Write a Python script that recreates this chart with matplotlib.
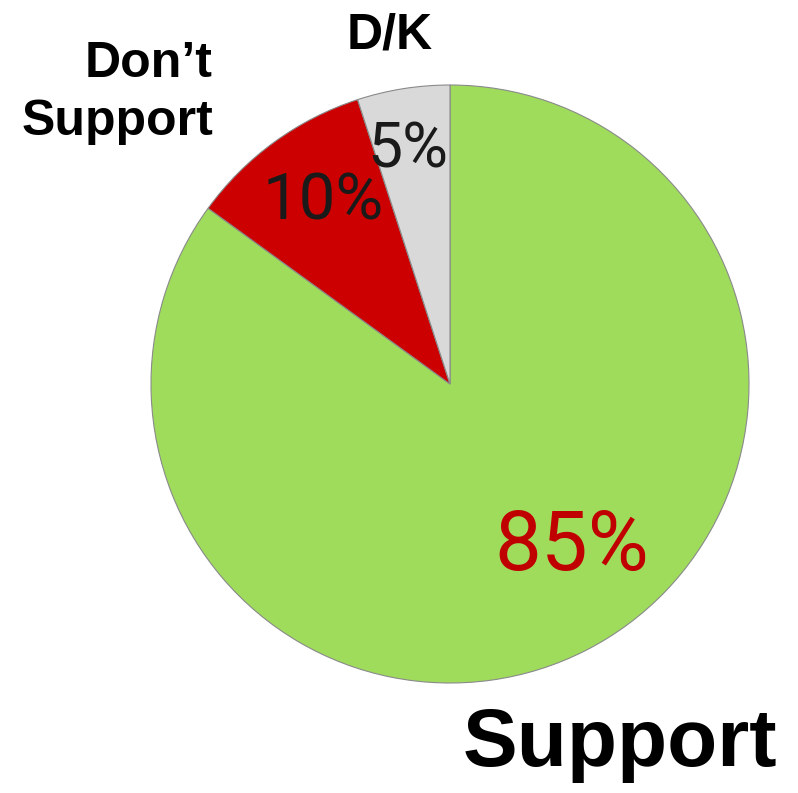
import matplotlib
matplotlib.use("Agg")
import matplotlib.pyplot as plt

labels = ["Support", "Don\u2019t\nSupport", "D/K"]
shares = [85, 10, 5]
colors = ["#9fdc5c", "#cc0000", "#d9d9d9"]
pct_colors = ["#c00000", "#1a1a1a", "#1a1a1a"]

W, H = 798, 793
fig = plt.figure(figsize=(W / 100, H / 100), dpi=100)
ax = fig.add_axes([0, 0, 1, 1])

cx, cy, r = 450, 384, 299

# y axis is flipped below, so -90 is the top and counterclock looks clockwise
wedges, _ = ax.pie(shares, colors=colors, startangle=-90, counterclock=True,
                   center=(cx, cy), radius=r, frame=True,
                   wedgeprops=dict(edgecolor="#8a8a8a", linewidth=0.8))
ax.set_xlim(0, W)
ax.set_ylim(H, 0)
ax.set_aspect("equal")
ax.axis("off")

narrow = ["Roboto", "DejaVu Sans"]
bold = ["Liberation Sans", "DejaVu Sans"]

# percentage labels
ax.text(572, 547, f"{shares[0]}%", fontsize=60, color=pct_colors[0],
        family=narrow, ha="center", va="center")
ax.text(323, 202, f"{shares[1]}%", fontsize=47, color=pct_colors[1],
        family=narrow, ha="center", va="center")
ax.text(408, 150, f"{shares[2]}%", fontsize=45, color=pct_colors[2],
        family=narrow, ha="center", va="center")

# category labels
ax.text(620, 766, labels[0], fontsize=59, fontweight="bold", family=bold,
        ha="center", va="baseline")
ax.text(213, 135, labels[1], fontsize=36, fontweight="bold", family=bold,
        ha="right", va="baseline", linespacing=1.32, multialignment="right")
ax.text(390, 48, labels[2], fontsize=36, fontweight="bold", family=bold,
        ha="center", va="baseline")

fig.savefig("out.png", dpi=100)
